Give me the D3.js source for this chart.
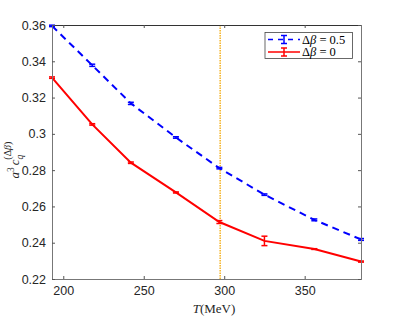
<!DOCTYPE html>
<html><head><meta charset="utf-8">
<script src="https://cdn.jsdelivr.net/npm/d3@7"></script>
<style>body{margin:0;background:#fff}svg{display:block}</style>
</head><body>
<script>
const temps = [193, 218, 242, 270, 297, 325, 356, 385];
const blueVals = [0.3595, 0.3378, 0.3168, 0.2980, 0.2811, 0.2665, 0.2526, 0.2418];
const blueErr  = [0.0004, 0.0006, 0.0006, 0.0004, 0.0004, 0.0004, 0.0005, 0.0005];
const redVals  = [0.3310, 0.3052, 0.2841, 0.2677, 0.2514, 0.2410, 0.2365, 0.2296];
const redErr   = [0.0004, 0.0004, 0.0004, 0.0003, 0.0008, 0.0026, 0.0002, 0.0003];
const xTicks = [200, 250, 300, 350];
const yTicks = [0.22, 0.24, 0.26, 0.28, 0.30, 0.32, 0.34, 0.36];
const yTickLabels = ["0.22", "0.24", "0.26", "0.28", "0.3", "0.32", "0.34", "0.36"];
const vLineT = 297.5;
const legendLabels = ["Δβ = 0.5", "Δβ = 0"];

const W = 399, H = 319;
const m = {l: 52, r: 38, t: 25, b: 40};
const svg = d3.select("body").append("svg").attr("width", W).attr("height", H);
const x = d3.scaleLinear().domain([193, 385]).range([m.l, W - m.r]);
const y = d3.scaleLinear().domain([0.22, 0.36]).range([H - m.b, m.t]);
const axisCol = "#262626";
const font = "'Liberation Sans', Arial, sans-serif";
const serif = "'Liberation Serif', 'DejaVu Serif', serif";

// vertical line
svg.append("line").attr("x1", x(vLineT)).attr("x2", x(vLineT))
  .attr("y1", y(0.36)).attr("y2", y(0.22))
  .attr("stroke", "#f5b324").attr("stroke-width", 1.5).attr("stroke-dasharray", "1.5,1");

function series(vals, errs, color, dash) {
  const pts = temps.map((t, i) => ({t, v: vals[i], e: errs[i]}));
  svg.append("path").datum(pts)
    .attr("d", d3.line().x(d => x(d.t)).y(d => y(d.v)))
    .attr("fill", "none").attr("stroke", color).attr("stroke-width", 2)
    .attr("stroke-dasharray", dash);
  const g = svg.append("g").attr("stroke", color).attr("stroke-width", 1.5);
  pts.forEach(d => {
    const cx = x(d.t), y1 = y(d.v - d.e), y2 = y(d.v + d.e);
    g.append("line").attr("x1", cx).attr("x2", cx).attr("y1", y1).attr("y2", y2);
    g.append("line").attr("x1", cx - 3).attr("x2", cx + 3).attr("y1", y1).attr("y2", y1);
    g.append("line").attr("x1", cx - 3).attr("x2", cx + 3).attr("y1", y2).attr("y2", y2);
  });
}
series(blueVals, blueErr, "#0000ff", "7,5");
series(redVals, redErr, "#ff0000", null);

// axes box
const gx = svg.append("g").attr("transform", `translate(0,${H - m.b})`)
  .call(d3.axisBottom(x).tickValues(xTicks).tickSize(-3).tickPadding(7).tickFormat(d3.format("d")));
const gxt = svg.append("g").attr("transform", `translate(0,${m.t})`)
  .call(d3.axisTop(x).tickValues(xTicks).tickSize(-3).tickFormat(""));
const gy = svg.append("g").attr("transform", `translate(${m.l},0)`)
  .call(d3.axisLeft(y).tickValues(yTicks).tickSize(-3).tickPadding(6).tickFormat((d, i) => yTickLabels[i]));
const gyr = svg.append("g").attr("transform", `translate(${W - m.r},0)`)
  .call(d3.axisRight(y).tickValues(yTicks).tickSize(-3).tickFormat(""));
[gx, gxt, gy, gyr].forEach(g => {
  g.select(".domain").attr("stroke", "#777").attr("stroke-width", 1);
  g.selectAll(".tick line").attr("stroke", "#555");
  g.selectAll("text").attr("fill", axisCol).style("font-family", font).style("font-size", "12.5px");
});
gxt.select(".domain").attr("stroke", "#333");

// axis labels
svg.append("text").attr("x", 214).attr("y", 313).attr("text-anchor", "middle")
  .style("font-family", serif).style("font-size", "13px").attr("fill", axisCol)
  .html('<tspan font-style="italic">T</tspan>(MeV)');
const yl = svg.append("text").attr("transform", "translate(19,160) rotate(-90)").attr("text-anchor", "middle")
  .style("font-family", serif).style("font-size", "13px").attr("fill", axisCol);
yl.append("tspan").attr("font-style", "italic").text("a");
yl.append("tspan").attr("dy", -5).attr("font-size", "9.5px").text("3");
yl.append("tspan").attr("dy", 5).attr("dx", 2).attr("font-style", "italic").text("c");
yl.append("tspan").attr("dy", 4).attr("font-size", "9.5px").attr("font-style", "italic").text("q");
yl.append("tspan").attr("dy", -12).attr("dx", -5).attr("font-size", "10px").text("(Δ");
yl.append("tspan").attr("font-size", "10px").attr("font-style", "italic").text("β");
yl.append("tspan").attr("font-size", "10px").text(")");

// legend
const lg = svg.append("g");
lg.append("rect").attr("x", 265).attr("y", 32.5).attr("width", 87.5).attr("height", 26)
  .attr("fill", "#fff").attr("stroke", "#444").attr("stroke-width", 0.8);
const legCols = ["#0000ff", "#ff0000"];
const legDash = ["5,5", null];
legendLabels.forEach((lab, i) => {
  const ly = 39.5 + i * 12.5;
  lg.append("line").attr("x1", 268).attr("x2", 300).attr("y1", ly).attr("y2", ly)
    .attr("stroke", legCols[i]).attr("stroke-width", 1.5).attr("stroke-dasharray", legDash[i]);
  const cx = 284;
  lg.append("line").attr("x1", cx).attr("x2", cx).attr("y1", ly - 4).attr("y2", ly + 4).attr("stroke", legCols[i]).attr("stroke-width", 1.5);
  lg.append("line").attr("x1", cx - 3).attr("x2", cx + 3).attr("y1", ly - 4).attr("y2", ly - 4).attr("stroke", legCols[i]).attr("stroke-width", 1.5);
  lg.append("line").attr("x1", cx - 3).attr("x2", cx + 3).attr("y1", ly + 4).attr("y2", ly + 4).attr("stroke", legCols[i]).attr("stroke-width", 1.5);
  const parts = lab.split(" = ");
  const t = lg.append("text").attr("x", 302).attr("y", ly + 4)
    .style("font-family", serif).style("font-size", "12.5px").attr("fill", "#000");
  t.append("tspan").text("Δ");
  t.append("tspan").attr("font-style", "italic").text("β");
  t.append("tspan").text(" = " + parts[1]);
});
</script>
</body></html>
